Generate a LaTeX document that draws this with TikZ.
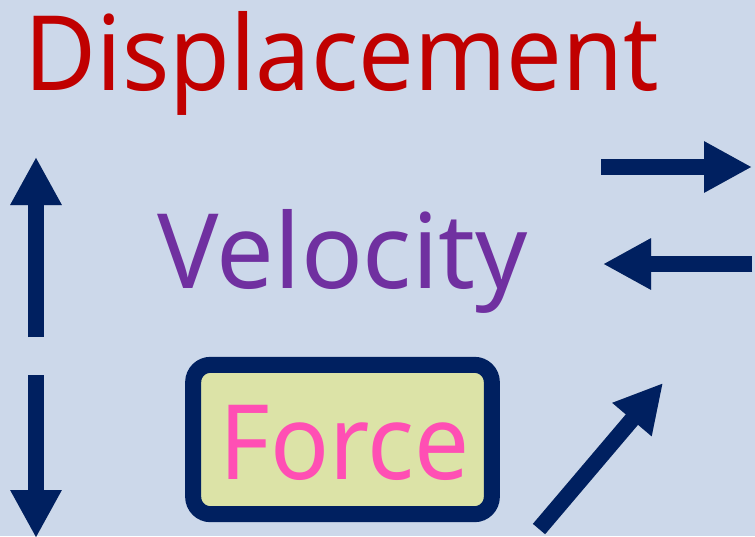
\documentclass[tikz,border=0pt]{standalone}
\usepackage{fontspec}
\setmainfont{Noto Sans}
\usepackage{tikz}
\usetikzlibrary{arrows.meta, positioning}

\definecolor{bgblue}{HTML}{CCD8EA}
\definecolor{navy}{HTML}{002060}
\definecolor{dispred}{HTML}{C00000}
\definecolor{velpurple}{HTML}{7030A0}
\definecolor{forcepink}{HTML}{FF4FB4}
\definecolor{forcefill}{HTML}{DCE3A7}

\begin{document}
\begin{tikzpicture}[x=0.75pt, y=-0.75pt,
    word/.style={font=\fontsize{78}{90}\selectfont, anchor=base, inner sep=0pt},
    vec/.style={navy, line width=12pt, -{Triangle[length=36pt, width=36pt]}},
    vecshadow/.style={black, opacity=0.18, line width=12pt, -{Triangle[length=36pt, width=36pt]}, shift={(3,3)}},
    forcebox/.style={draw=navy, fill=forcefill, line width=12pt, rounded corners=13pt,
      minimum width=224pt, minimum height=112pt, inner sep=0pt}]
      \fill[bgblue] (0,0) rectangle (755,536);
      \useasboundingbox (0,0) rectangle (755,536);

      % words
      \node[word, text=dispred] (disp) at (342,90) {\scalebox{0.95}[1]{Displacement}};
      \node[word, text=velpurple] (vel) at (342.5,288) {\scalebox{0.985}[1]{Velocity}};
      \node[forcebox] (box) at (342.5,439.5) {};
      \node[word, text=forcepink] (force) at (344.5,479) {\scalebox{0.94}[1]{Force}};

      % arrow ends
      \coordinate (up0) at (36,337);
      \coordinate (up1) at (36,157);
      \coordinate (dn0) at (36,375);
      \coordinate (dn1) at (36,538);
      \coordinate (rt0) at (601,167);
      \coordinate (rt1) at (752,167);
      \coordinate (lt0) at (752,264);
      \coordinate (lt1) at (603,264);
      \coordinate (dg0) at (539,529);
      \coordinate (dg1) at (663,383);

      \foreach \a in {up, dn, rt, lt, dg} {
        \draw[vecshadow] (\a0) -- (\a1);
        \draw[vec] (\a0) -- (\a1);
      }
    \end{tikzpicture}
\end{document}
